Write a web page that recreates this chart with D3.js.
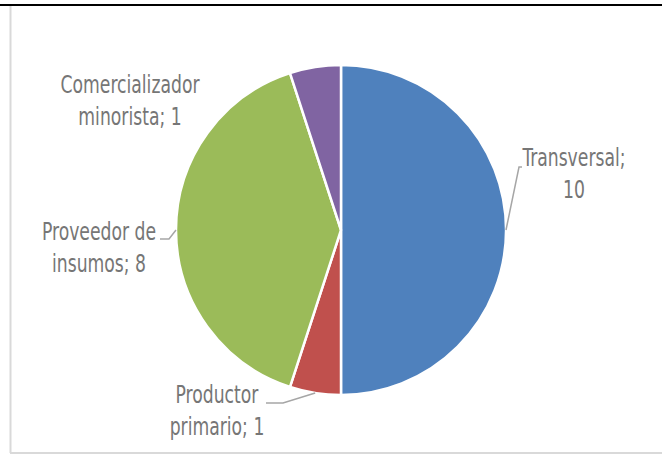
<!DOCTYPE html>
<html>
<head>
<meta charset="utf-8">
<script src="https://cdn.jsdelivr.net/npm/d3@7"></script>
<style>
  body { margin: 0; background: #fff; }
  svg { display: block; }
  .lbl { font-family: "Liberation Sans Narrow", "DejaVu Sans Condensed", sans-serif; font-size: 25.5px; fill: #767676; }
</style>
</head>
<body>
<svg id="chart" width="662" height="455"></svg>
<script>
// data
const categories = ["Transversal", "Productor primario", "Proveedor de insumos", "Comercializador minorista"];
const values = [10, 1, 8, 1];
const colors = ["#4f81bd", "#c0504d", "#9bbb59", "#8064a2"];
// label text split in two lines
const labelLines = [["Transversal;", "10"], ["Productor", "primario; 1"], ["Proveedor de", "insumos; 8"], ["Comercializador", "minorista; 1"]];

// layout
const cx = 341, cy = 230, radius = 165;
const labelPos = [[574, 166], [217, 403], [99, 240], [130, 93]];
const elbows = [[[519, 167], [522, 167]], [[283, 403], [266, 403]], [[169, 239], [160, 239]], null];
const squeeze = 0.75; // condensed look

const svg = d3.select("#chart");

// frame
svg.append("line").attr("x1", 10.5).attr("y1", 6).attr("x2", 10.5).attr("y2", 453)
    .attr("stroke", "#d9d9d9").attr("stroke-width", 2);
svg.append("line").attr("x1", 10).attr("y1", 453).attr("x2", 662).attr("y2", 453)
    .attr("stroke", "#d9d9d9").attr("stroke-width", 2);
svg.append("line").attr("x1", 0).attr("y1", 5).attr("x2", 662).attr("y2", 5)
    .attr("stroke", "#000").attr("stroke-width", 2);

const pie = d3.pie().sort(null).value(d => d);
const arcs = pie(values);
const arc = d3.arc().innerRadius(0).outerRadius(radius);

const g = svg.append("g").attr("transform", `translate(${cx},${cy})`);

g.selectAll("path.slice")
    .data(arcs)
    .enter()
    .append("path")
    .attr("class", "slice")
    .attr("d", arc)
    .attr("fill", (d, i) => colors[i])
    .attr("stroke", "#fff")
    .attr("stroke-width", 2.5)
    .append("title")
    .text((d, i) => categories[i] + "; " + values[i]);

// leader lines
const edge = d3.arc().innerRadius(radius).outerRadius(radius);
arcs.forEach(function (d, i) {
    if (!elbows[i]) return;
    const p = edge.centroid(d);
    const pts = [[p[0] + cx, p[1] + cy]].concat(elbows[i]);
    svg.append("path")
        .attr("d", d3.line()(pts))
        .attr("fill", "none")
        .attr("stroke", "#a6a6a6")
        .attr("stroke-width", 1.5);
});

// labels
labelLines.forEach(function (lines, i) {
    lines.forEach(function (s, j) {
        const t = svg.append("text")
            .attr("class", "lbl")
            .attr("text-anchor", "middle")
            .attr("x", labelPos[i][0])
            .attr("y", labelPos[i][1] + j * 32)
            .text(s);
        const w = t.node().getComputedTextLength();
        t.attr("textLength", w * squeeze).attr("lengthAdjust", "spacingAndGlyphs");
    });
});
</script>
</body>
</html>
